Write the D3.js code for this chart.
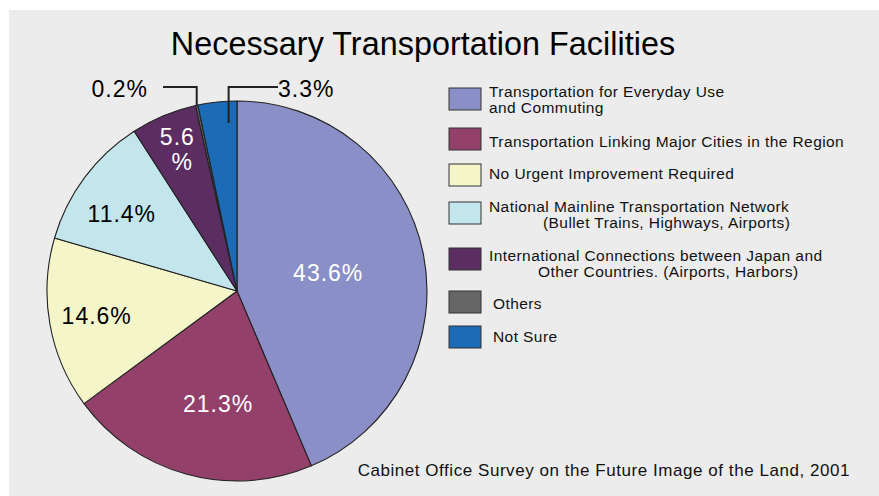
<!DOCTYPE html>
<html>
<head>
<meta charset="utf-8">
<script src="https://cdn.jsdelivr.net/npm/d3@7/dist/d3.min.js"></script>
<style>
  html, body { margin: 0; padding: 0; background: #ffffff; }
  svg { display: block; font-family: "Liberation Sans", Arial, Helvetica, sans-serif; }
</style>
</head>
<body>
<svg id="chart" width="879" height="496"></svg>
<script>
// Survey categories, in clockwise order from 12 o'clock
const categories = [
  "Transportation for Everyday Use and Commuting",
  "Transportation Linking Major Cities in the Region",
  "No Urgent Improvement Required",
  "National Mainline Transportation Network (Bullet Trains, Highways, Airports)",
  "International Connections between Japan and Other Countries. (Airports, Harbors)",
  "Others",
  "Not Sure"
];
const values = [43.6, 21.3, 14.6, 11.4, 5.6, 0.2, 3.3];
const colors = ["#8b8fc7", "#93406b", "#f4f5c9", "#c3e6ec", "#5b2d61", "#666666", "#1b6bb6"];

// Legend text lines (second line indented where the label wraps)
const legendLines = [
  [{ t: "Transportation for Everyday Use", dx: 0 }, { t: "and Commuting", dx: 0 }],
  [{ t: "Transportation Linking Major Cities in the Region", dx: 0 }],
  [{ t: "No Urgent Improvement Required", dx: 0 }],
  [{ t: "National Mainline Transportation Network", dx: 0 }, { t: "(Bullet Trains, Highways, Airports)", dx: 54 }],
  [{ t: "International Connections between Japan and", dx: 0 }, { t: "Other Countries. (Airports, Harbors)", dx: 49 }],
  [{ t: "Others", dx: 4 }],
  [{ t: "Not Sure", dx: 4 }]
];

const title = "Necessary Transportation Facilities";
const source = "Cabinet Office Survey on the Future Image of the Land, 2001";

const svg = d3.select("#chart");

// panel background
svg.append("rect").attr("x", 9).attr("y", 10).attr("width", 870).attr("height", 486).attr("fill", "#ececec");

svg.append("text")
  .attr("x", 423).attr("y", 55)
  .attr("text-anchor", "middle")
  .attr("font-size", 32.3)
  .attr("letter-spacing", 0.05)
  .attr("fill", "#000")
  .text(title);

// pie
const cx = 237, cy = 291, R = 190;
const pie = d3.pie().sort(null).value(d => d)(values);
const arc = d3.arc().innerRadius(0).outerRadius(R);
const g = svg.append("g").attr("transform", `translate(${cx},${cy})`);

g.selectAll("path.slice").data(pie).join("path")
  .attr("class", "slice")
  .attr("d", arc)
  .attr("fill", (d, i) => colors[i])
  .attr("stroke", "#222")
  .attr("stroke-width", 1.1)
  .attr("stroke-linejoin", "round");

// in-slice labels: radius fraction and angular nudge (radians) from the slice middle
const labelSpec = [
  { i: 0, r: 0.49, da: 0.0, color: "#fff" },
  { i: 1, r: 0.60, da: -0.10, color: "#fff" },
  { i: 2, r: 0.75, da: 0.0, color: "#000" },
  { i: 3, r: 0.73, da: -0.05, color: "#000" }
];
function polar(a, rr) { return [Math.sin(a) * rr, -Math.cos(a) * rr]; }
labelSpec.forEach(s => {
  const d = pie[s.i];
  const a = (d.startAngle + d.endAngle) / 2 + s.da;
  const [x, y] = polar(a, R * s.r);
  g.append("text")
    .attr("x", x)
    .attr("y", y)
    .attr("dy", "0.36em")
    .attr("text-anchor", "middle")
    .attr("font-size", 23)
    .attr("letter-spacing", 1)
    .attr("fill", s.color)
    .text(values[s.i].toFixed(1) + "%");
});

// 5.6% label split over two lines inside the narrow slice
{
  const d = pie[4];
  const a = (d.startAngle + d.endAngle) / 2;
  const [x, y] = polar(a, R * 0.76);
  const t = g.append("text").attr("text-anchor", "middle").attr("font-size", 23)
    .attr("letter-spacing", 1).attr("fill", "#fff");
  t.append("tspan").attr("x", x - 4).attr("y", y - 13).text(values[4].toFixed(1));
  t.append("tspan").attr("x", x + 1).attr("y", y + 12).text("%");
}

// callouts for the small slices: elbow line from a point inside the slice
// (t = position across the slice, 0 = start edge, 1 = end edge) up to the label row
function callout(idx, t, rIn, xLine, xText, anchor) {
  const d = pie[idx];
  const a = d.startAngle + (d.endAngle - d.startAngle) * t;
  const [px, py] = polar(a, R * rIn);
  const ly = 87 - cy;
  g.append("path")
    .attr("d", `M${px},${py}V${ly}H${xLine - cx}`)
    .attr("fill", "none")
    .attr("stroke", "#222")
    .attr("stroke-width", 2);
  g.append("text")
    .attr("x", xText - cx)
    .attr("y", 97 - cy)
    .attr("text-anchor", anchor)
    .attr("font-size", 23)
    .attr("letter-spacing", 1)
    .attr("fill", "#000")
    .text(values[idx].toFixed(1) + "%");
}
callout(5, 0.5, 1.0, 163, 148, "end");
callout(6, 0.76, 0.885, 278, 278, "start");

// legend
const legend = svg.append("g");
const swatchY = [88, 128, 164, 202, 248, 291, 326];
const textY = [97, 147, 179, 212, 261, 309, 342];
categories.forEach((c, i) => {
  legend.append("rect")
    .attr("x", 449).attr("y", swatchY[i])
    .attr("width", 32).attr("height", 22)
    .attr("fill", colors[i])
    .attr("stroke", "#333").attr("stroke-width", 1);
  legendLines[i].forEach((ln, j) => {
    legend.append("text")
      .attr("x", 489 + ln.dx)
      .attr("y", textY[i] + j * 16)
      .attr("font-size", 15.5)
      .attr("letter-spacing", 0.42)
      .attr("fill", "#111")
      .text(ln.t);
  });
});

svg.append("text")
  .attr("x", 850).attr("y", 476)
  .attr("text-anchor", "end")
  .attr("font-size", 17)
  .attr("letter-spacing", 0.55)
  .attr("fill", "#111")
  .text(source);
</script>
</body>
</html>
